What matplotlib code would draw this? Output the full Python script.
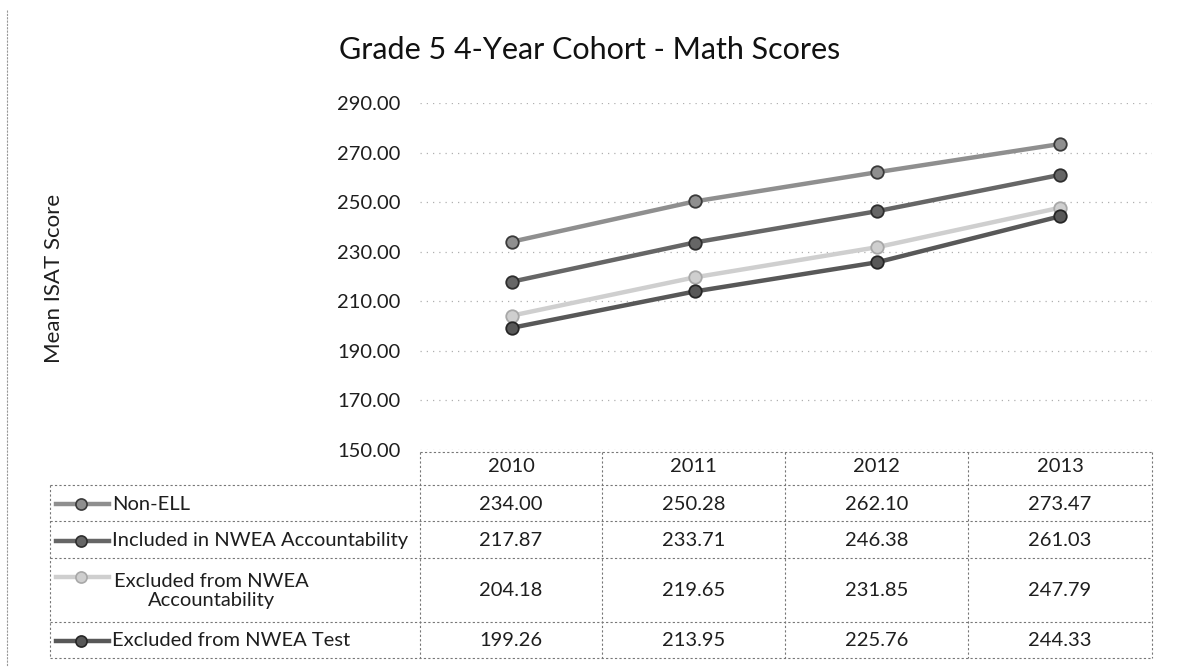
import matplotlib.pyplot as plt
from matplotlib.lines import Line2D

years = ["2010", "2011", "2012", "2013"]
series_names = [
    "Non-ELL",
    "Included in NWEA Accountability",
    "Excluded from NWEA\nAccountability",
    "Excluded from NWEA Test",
]
non_ell = [234.00, 250.28, 262.10, 273.47]
included = [217.87, 233.71, 246.38, 261.03]
excluded_acc = [204.18, 219.65, 231.85, 247.79]
excluded_test = [199.26, 213.95, 225.76, 244.33]
y_ticks = [150, 170, 190, 210, 230, 250, 270, 290]

SERIES = [non_ell, included, excluded_acc, excluded_test]
LINE_COLORS = ["#8f8f8f", "#666666", "#cfcfcf", "#585858"]
EDGE_COLORS = ["#3a3a3a", "#2e2e2e", "#a8a8a8", "#262626"]
FONT = ["Lato", "DejaVu Sans"]
TEXT_SIZE = 14.5
TEXT_COLOR = "#1e1e1e"

W, H = 1178, 667


def fx(x):
    return x / W


def fy(y):
    return 1 - y / H


def hline(fig, x0, x1, y, **kw):
    fig.add_artist(Line2D([fx(x0), fx(x1)], [fy(y), fy(y)], transform=fig.transFigure, **kw))


def vline(fig, x, y0, y1, **kw):
    fig.add_artist(Line2D([fx(x), fx(x)], [fy(y0), fy(y1)], transform=fig.transFigure, **kw))


def main():
    plt.rcParams["font.family"] = FONT
    fig = plt.figure(figsize=(W / 100, H / 100), dpi=100)

    # plot area lines up with the data table columns
    left, right, top, bottom = 420, 1152, 103, 450
    ax = fig.add_axes([fx(left), fy(bottom), fx(right - left), (bottom - top) / H])
    ax.set_xlim(-0.5, len(years) - 0.5)
    ax.set_ylim(y_ticks[0], y_ticks[-1])
    ax.set_yticks(y_ticks)
    ax.set_yticklabels([f"{v:.2f}" for v in y_ticks], fontsize=TEXT_SIZE, color=TEXT_COLOR)
    ax.set_xticks([])
    ax.tick_params(axis="y", length=0, pad=14)
    for s in ax.spines.values():
        s.set_visible(False)
    ax.grid(axis="y", color="#b0b0b0", linestyle=(0, (1, 4)), linewidth=0.9)
    ax.set_axisbelow(True)

    xs = list(range(len(years)))
    for vals, c, ec in zip(SERIES, LINE_COLORS, EDGE_COLORS):
        ax.plot(xs, vals, color=c, linewidth=3.2, marker="o", markersize=9,
                markerfacecolor=c, markeredgecolor=ec, markeredgewidth=1.3, zorder=3)

    fig.text(fx(590), fy(50), "Grade 5 4-Year Cohort - Math Scores", ha="center", va="center",
             fontsize=22, color="#111111")
    fig.text(fx(54), fy(278), "Mean ISAT Score", rotation=90, ha="center", va="center",
             fontsize=16, color=TEXT_COLOR)

    # data table under the plot
    col_edges = [420, 602, 785, 968, 1152]
    row_edges = [452, 485, 521, 558, 622, 658]
    line_kw = dict(color="#777777", linewidth=0.8, linestyle=(0, (2, 2)))
    hline(fig, 420, 1152, row_edges[0], **line_kw)
    for y in row_edges[1:]:
        hline(fig, 50, 1152, y, **line_kw)
    for x in col_edges:
        vline(fig, x, row_edges[0], row_edges[-1], **line_kw)
    vline(fig, 50, row_edges[1], row_edges[-1], **line_kw)
    vline(fig, 7, 10, 667, color="#999999", linewidth=0.8, linestyle=(0, (2, 1)))

    for i, yr in enumerate(years):
        cx = (col_edges[i] + col_edges[i + 1]) / 2
        fig.text(fx(cx), fy(466), yr, ha="center", va="center",
                 fontsize=TEXT_SIZE, color=TEXT_COLOR)

    for r, (name, vals) in enumerate(zip(series_names, SERIES)):
        cy = (row_edges[r + 1] + row_edges[r + 2]) / 2 + 1
        for i, v in enumerate(vals):
            cx = (col_edges[i] + col_edges[i + 1]) / 2
            fig.text(fx(cx), fy(cy), f"{v:.2f}", ha="center", va="center",
                     fontsize=TEXT_SIZE, color=TEXT_COLOR)
        two_line = "\n" in name
        sym_y = cy - 14 if two_line else cy
        fig.add_artist(Line2D([fx(56), fx(109)], [fy(sym_y), fy(sym_y)], transform=fig.transFigure,
                              color=LINE_COLORS[r], linewidth=3.2))
        fig.add_artist(Line2D([fx(81)], [fy(sym_y)], transform=fig.transFigure, marker="o",
                              markersize=8, markerfacecolor=LINE_COLORS[r],
                              markeredgecolor=EDGE_COLORS[r], markeredgewidth=1.2))
        if two_line:
            fig.text(fx(211), fy(cy), name, ha="center", va="center", multialignment="center",
                     fontsize=TEXT_SIZE, color=TEXT_COLOR, linespacing=1.15)
        else:
            fig.text(fx(112), fy(cy), name, ha="left", va="center",
                     fontsize=TEXT_SIZE, color=TEXT_COLOR)

    fig.savefig("out.png", dpi=100, facecolor="white")
    plt.close(fig)


if __name__ == "__main__":
    main()
